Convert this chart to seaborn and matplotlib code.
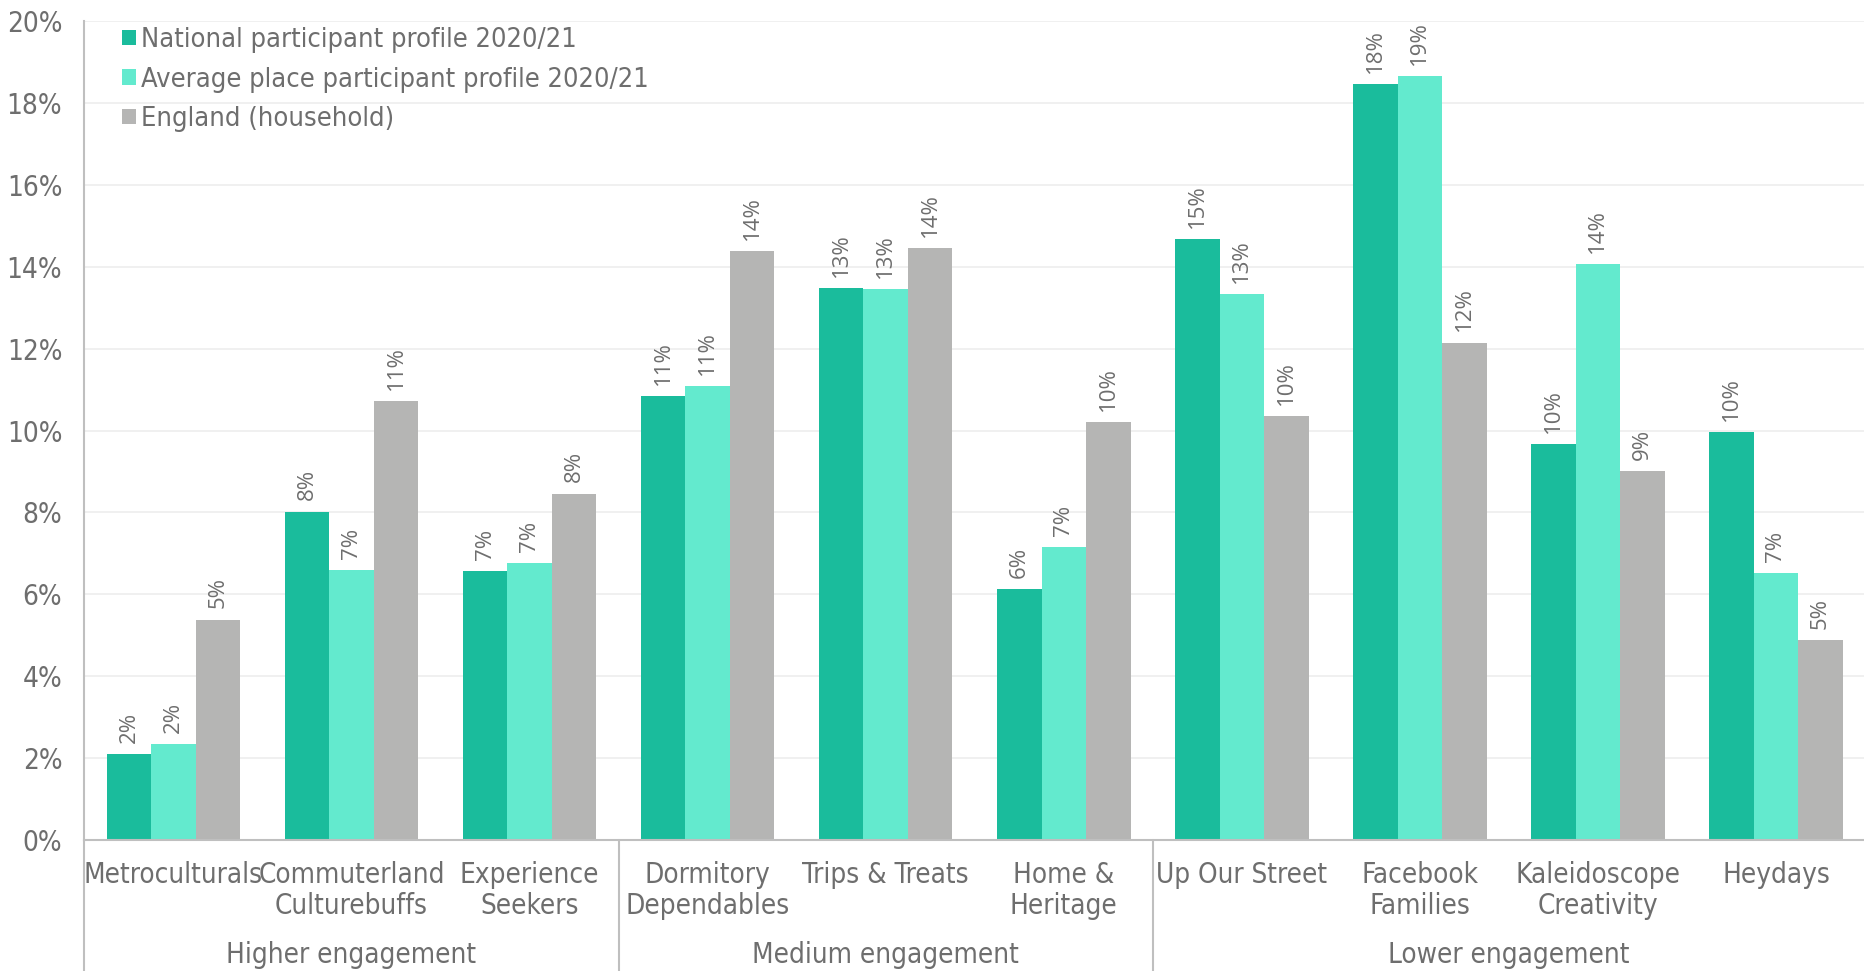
import matplotlib
matplotlib.use("Agg")
import matplotlib.pyplot as plt
import matplotlib.transforms as mtransforms
import seaborn as sns
import pandas as pd

# Audience spectrum segments, grouped by engagement level
segments = ["Metroculturals", "Commuterland\nCulturebuffs", "Experience\nSeekers",
            "Dormitory\nDependables", "Trips & Treats", "Home &\nHeritage",
            "Up Our Street", "Facebook\nFamilies", "Kaleidoscope\nCreativity", "Heydays"]
groups = ["Higher engagement", "Medium engagement", "Lower engagement"]
group_sizes = [3, 3, 4]

series_names = ["National participant profile 2020/21",
                "Average place participant profile 2020/21",
                "England (household)"]
national = [2.09, 8.02, 6.57, 10.84, 13.48, 6.13, 14.68, 18.47, 9.68, 9.97]
average_place = [2.33, 6.60, 6.77, 11.08, 13.46, 7.15, 13.34, 18.66, 14.07, 6.51]
england = [5.38, 10.73, 8.46, 14.39, 14.45, 10.20, 10.35, 12.15, 9.01, 4.88]

y_ticks = list(range(0, 21, 2))

palette = ["#1ABC9C", "#63EACE", "#B5B5B4"]
text_grey = "#6E6E6E"
line_grey = "#BFBFBF"
label_font = ["Open Sans", "DejaVu Sans"]

df = pd.DataFrame({
    "segment": segments * 3,
    "share": national + average_place + england,
    "series": [series_names[0]] * 10 + [series_names[1]] * 10 + [series_names[2]] * 10,
})

sns.set_theme(style="white")
plt.rcParams["font.family"] = ["DejaVu Sans"]
plt.rcParams["font.stretch"] = "condensed"

fig = plt.figure(figsize=(18.65, 9.71), dpi=100)
ax = fig.add_axes([0.0453, 0.1352, 0.9547, 0.8428])

sns.barplot(data=df, x="segment", y="share", hue="series", order=segments,
            hue_order=series_names, palette=palette, width=0.75, gap=0,
            saturation=1, edgecolor="none", ax=ax)

# rotated value labels above each bar
for container, vals in zip(ax.containers, [national, average_place, england]):
    ax.bar_label(container, labels=[f"{v:.0f}%" for v in vals], rotation=90,
                 padding=8, color=text_grey, fontsize=16, family=label_font,
                 fontstretch="normal")

ax.set_ylim(0, 20)
ax.set_xlim(-0.5, len(segments) - 0.5)
ax.set_yticks(y_ticks)
ax.set_yticklabels([f"{t}%" for t in y_ticks])
ax.yaxis.grid(True, color="#EDEDED", linewidth=1.2)
ax.set_axisbelow(True)
ax.tick_params(axis="y", length=0, pad=16, labelsize=20, labelcolor=text_grey)
ax.tick_params(axis="x", length=0, pad=15.5, labelsize=20, labelcolor=text_grey)
for lbl in ax.get_xticklabels():
    lbl.set_linespacing(1.12)
ax.set_xlabel("")
ax.set_ylabel("")

for side in ["top", "right"]:
    ax.spines[side].set_visible(False)
for side in ["left", "bottom"]:
    ax.spines[side].set_color(line_grey)
    ax.spines[side].set_linewidth(1.5)

# group separators and group captions below the category labels
trans = mtransforms.blended_transform_factory(ax.transData, ax.transAxes)
bottom_frac = -(971 - 839.7) / 818.3
start = 0
for gname, size in zip(groups, group_sizes):
    ax.plot([start - 0.5, start - 0.5], [0, bottom_frac], transform=trans,
            color=line_grey, linewidth=1.5, clip_on=False)
    ax.text(start + (size - 1) / 2, -0.1405, gname, transform=trans,
            ha="center", va="center", fontsize=20, color=text_grey)
    start += size

leg = ax.legend(loc="upper left", bbox_to_anchor=(0.015, 1.006), frameon=False,
                fontsize=19.5, handlelength=0.5, handleheight=0.5,
                handletextpad=0.2, labelspacing=0.5, borderaxespad=0)
for t in leg.get_texts():
    t.set_color(text_grey)

fig.savefig("out.png", dpi=100)
